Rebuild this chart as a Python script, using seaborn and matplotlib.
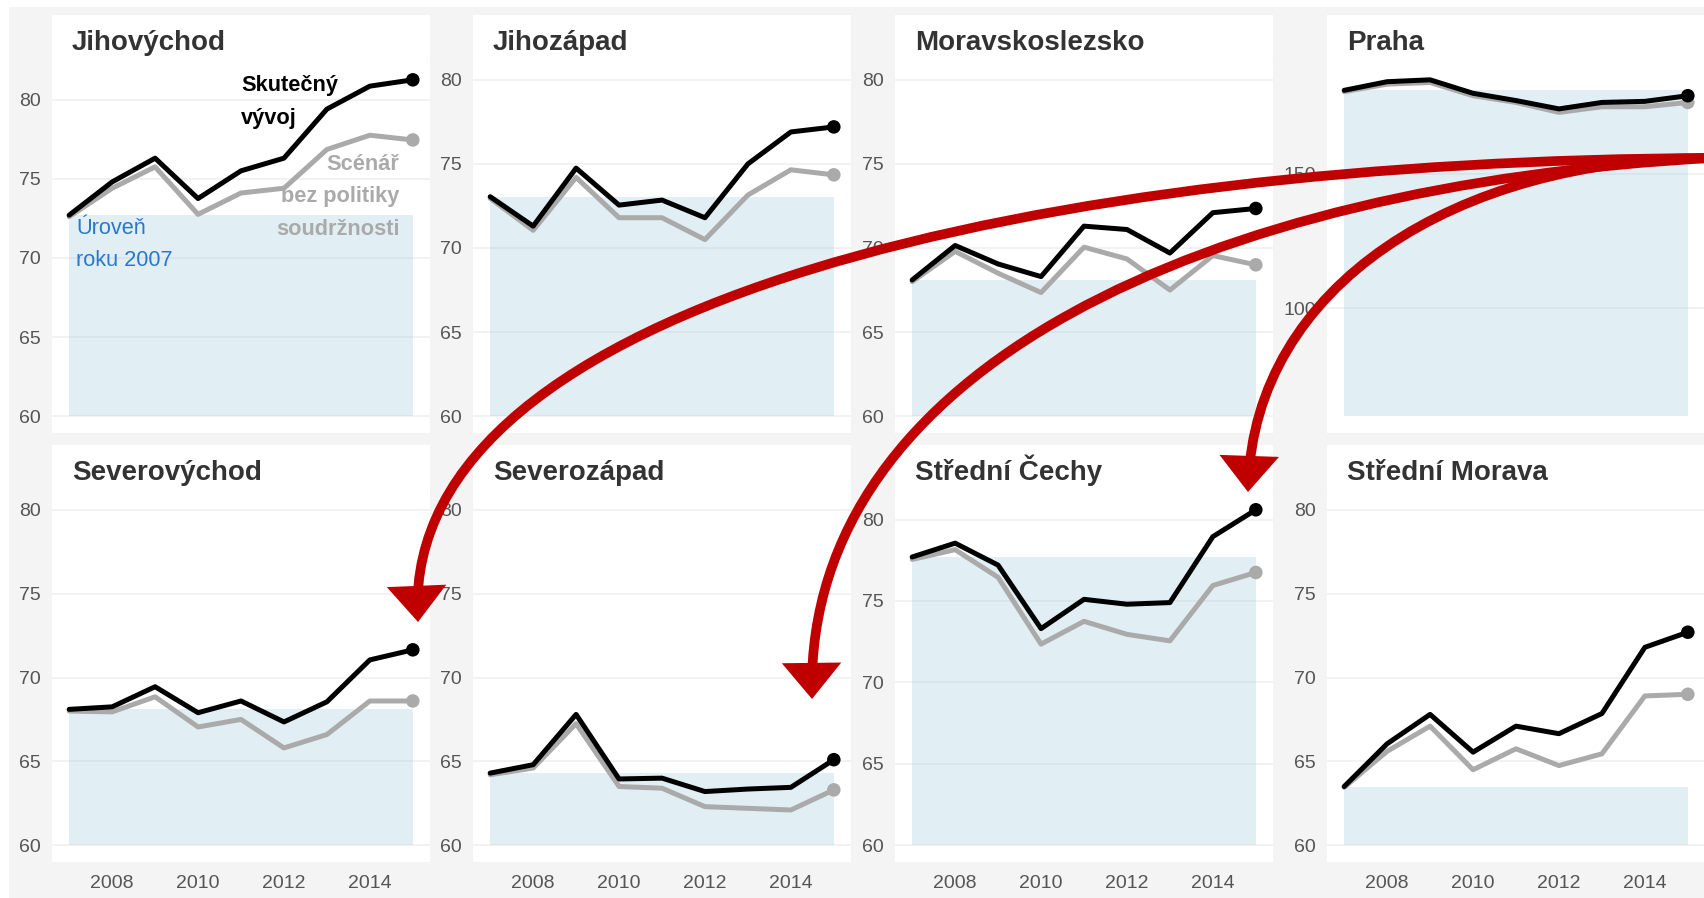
import matplotlib
matplotlib.use("Agg")
import numpy as np
import pandas as pd
import matplotlib.pyplot as plt
import seaborn as sns
from matplotlib.path import Path
from matplotlib.patches import FancyArrowPatch, Rectangle, ArrowStyle
from matplotlib.ticker import MultipleLocator

# DATA (HDP na obyvatele, EU = 100)
years = [2007, 2008, 2009, 2010, 2011, 2012, 2013, 2014, 2015]
base_level = 60

jihovychod_skutecny = [72.7, 74.8, 76.3, 73.75, 75.5, 76.3, 79.4, 80.85, 81.25]
jihovychod_scenar = [72.6, 74.4, 75.75, 72.75, 74.1, 74.4, 76.85, 77.75, 77.45]
jihozapad_skutecny = [73.05, 71.3, 74.75, 72.55, 72.85, 71.8, 75.0, 76.9, 77.2]
jihozapad_scenar = [72.95, 71.05, 74.2, 71.8, 71.8, 70.5, 73.15, 74.65, 74.35]
moravskoslezsko_skutecny = [68.1, 70.15, 69.05, 68.3, 71.3, 71.1, 69.7, 72.1, 72.35]
moravskoslezsko_scenar = [68.0, 69.8, 68.5, 67.35, 70.05, 69.35, 67.5, 69.55, 69.0]
praha_skutecny = [181.0, 184.2, 184.9, 179.9, 177.2, 174.1, 176.5, 176.9, 179.0]
praha_scenar = [180.5, 183.3, 183.9, 179.0, 176.5, 172.8, 174.9, 174.9, 176.5]
severovychod_skutecny = [68.1, 68.25, 69.45, 67.9, 68.6, 67.35, 68.55, 71.05, 71.65]
severovychod_scenar = [68.0, 67.95, 68.85, 67.05, 67.5, 65.8, 66.6, 68.6, 68.6]
severozapad_skutecny = [64.3, 64.8, 67.8, 63.95, 64.0, 63.2, 63.35, 63.45, 65.1]
severozapad_scenar = [64.2, 64.6, 67.25, 63.5, 63.4, 62.3, 62.2, 62.1, 63.3]
stredni_cechy_skutecny = [77.7, 78.55, 77.2, 73.3, 75.1, 74.8, 74.9, 78.95, 80.6]
stredni_cechy_scenar = [77.55, 78.15, 76.45, 72.35, 73.75, 72.95, 72.55, 75.95, 76.75]
stredni_morava_skutecny = [63.5, 66.05, 67.8, 65.55, 67.1, 66.65, 67.85, 71.8, 72.7]
stredni_morava_scenar = [63.45, 65.6, 67.1, 64.5, 65.75, 64.75, 65.45, 68.9, 69.0]

regions = [
    ("Jihovýchod", jihovychod_skutecny, jihovychod_scenar),
    ("Jihozápad", jihozapad_skutecny, jihozapad_scenar),
    ("Moravskoslezsko", moravskoslezsko_skutecny, moravskoslezsko_scenar),
    ("Praha", praha_skutecny, praha_scenar),
    ("Severovýchod", severovychod_skutecny, severovychod_scenar),
    ("Severozápad", severozapad_skutecny, severozapad_scenar),
    ("Střední Čechy", stredni_cechy_skutecny, stredni_cechy_scenar),
    ("Střední Morava", stredni_morava_skutecny, stredni_morava_scenar),
]

# STYLE
sns.set_style("white")
plt.rcParams["font.family"] = ["Liberation Sans", "DejaVu Sans"]

W, H = 1704, 898
fig = plt.figure(figsize=(W / 100, H / 100), dpi=100)
fig.patch.set_facecolor("white")
fig.add_artist(Rectangle((9 / W, 0), 1, (H - 7) / H, transform=fig.transFigure,
                         facecolor="#f4f4f4", edgecolor="none", zorder=-10))

col_x = [52, 473, 895, 1327]
panel_w = 378
rows = [(15, 63, 433), (445, 493, 862)]  # strip top, plot top, plot bottom

black = "#000000"
grey = "#aaaaaa"
red = "#c00000"

axes = []
for i, (name, skut, scen) in enumerate(regions):
    r, c = divmod(i, 4)
    st, pt, pb = rows[r]
    x0 = col_x[c]

    # title strip
    sax = fig.add_axes([x0 / W, 1 - pt / H, panel_w / W, (pt - st) / H])
    sax.set_facecolor("white")
    sax.set_xticks([])
    sax.set_yticks([])
    for s in ["top", "left", "right"]:
        sax.spines[s].set_visible(False)
    sax.spines["bottom"].set_color("#eeeeee")
    sax.text(20 / panel_w, 13 / 48, name, transform=sax.transAxes, fontsize=20,
             fontweight="bold", color="#333333", va="baseline", ha="left")

    ax = fig.add_axes([x0 / W, 1 - pb / H, panel_w / W, (pb - pt) / H])
    ax.set_facecolor("white")
    for s in ax.spines.values():
        s.set_visible(False)

    df = pd.DataFrame({"rok": years, "skutecny": skut, "scenar": scen})

    # level of 2007
    ax.fill_between([years[0], years[-1]], base_level, skut[0],
                    color="#9ecae1", alpha=0.3, lw=0, zorder=1)

    sns.lineplot(data=df, x="rok", y="scenar", ax=ax, color=grey, lw=3.6, zorder=3)
    sns.lineplot(data=df, x="rok", y="skutecny", ax=ax, color=black, lw=3.6, zorder=4)
    sns.scatterplot(data=df.iloc[[-1]], x="rok", y="scenar", ax=ax, color=grey,
                    s=95, edgecolor="none", zorder=5)
    sns.scatterplot(data=df.iloc[[-1]], x="rok", y="skutecny", ax=ax, color=black,
                    s=95, edgecolor="none", zorder=6)

    lo = base_level
    hi = max(80, max(skut), max(scen))
    pad = 0.05 * (hi - lo)
    ax.set_ylim(lo - pad, hi + pad)
    ax.set_xlim(years[0] - 0.4, years[-1] + 0.4)

    ax.yaxis.set_major_locator(MultipleLocator(50 if hi > 100 else 5))
    ax.xaxis.set_major_locator(MultipleLocator(2))
    ax.grid(axis="y", color="#efefef", lw=1.1, zorder=0)
    ax.grid(axis="x", visible=False)
    ax.set_axisbelow(True)
    ax.tick_params(axis="both", length=0, labelsize=14, labelcolor="#555555")
    ax.tick_params(axis="y", pad=8)
    ax.tick_params(axis="x", pad=9)
    if r == 0:
        ax.tick_params(axis="x", labelbottom=False)
    ax.set_xlabel("")
    ax.set_ylabel("")
    axes.append(ax)

# annotations in first panel (anchored at last line's baseline)
ax0 = axes[0]
ax0.text(2011.0, 78.48, "Skutečný\nvývoj", fontsize=15.7, fontweight="bold",
         color=black, ha="left", va="baseline", linespacing=1.7, zorder=7)
ax0.text(2014.69, 71.47, "Scénář\nbez politiky\nsoudržnosti", fontsize=15.7,
         fontweight="bold", color=grey, ha="right", va="baseline",
         linespacing=1.7, multialignment="right", zorder=7)
ax0.text(2007.16, 69.47, "Úroveň\nroku 2007", fontsize=15.7, color="#2a78cc",
         ha="left", va="baseline", linespacing=1.7, zorder=7)


# red arrows from Praha
def p(x, y):
    return (x / W, 1 - y / H)


curves = [
    [(1712, 158), (1050, 160), (405, 300), (418, 622)],
    [(1712, 158), (1204, 185), (808, 369), (812, 699)],
    [(1712, 158), (1454, 158), (1255, 287), (1248, 492)],
]
for pts in curves:
    path = Path([p(*q) for q in pts], [Path.MOVETO, Path.CURVE4, Path.CURVE4, Path.CURVE4])
    arr = FancyArrowPatch(path=path, arrowstyle=ArrowStyle("-|>", head_length=17, head_width=14),
                          mutation_scale=1, lw=7, color=red, transform=fig.transFigure,
                          zorder=20, capstyle="butt", joinstyle="miter")
    fig.add_artist(arr)

fig.savefig("out.png", dpi=100, facecolor=fig.get_facecolor())
